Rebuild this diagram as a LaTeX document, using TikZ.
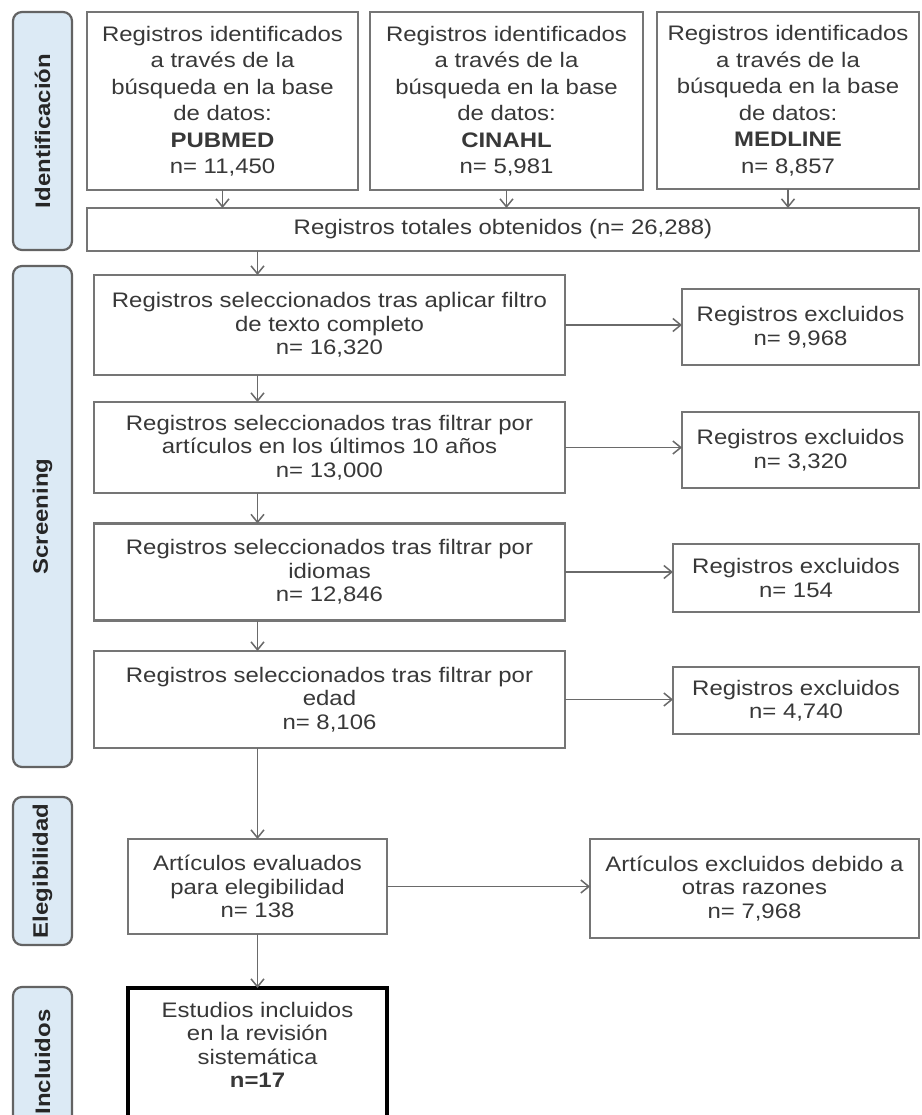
\documentclass[tikz,border=0pt]{standalone}
\usepackage{fontspec}
\setmainfont[FakeStretch=1.14]{Liberation Sans}
\usetikzlibrary{arrows.meta}
\definecolor{txt}{HTML}{383838}
\definecolor{bord}{HTML}{757575}
\definecolor{lblfill}{HTML}{DCEAF5}
\definecolor{lblbord}{HTML}{636363}
\definecolor{arr}{HTML}{6A6A6A}
\newcommand\fnt{\fontsize{21}{23.5}\selectfont}
\newcommand\fnttop{\fontsize{21}{26.5}\selectfont}
\begin{document}
\begin{tikzpicture}[x=1pt,y=-1pt,
  box/.style={draw=bord,line width=2.2pt,fill=white,text=txt,align=center,inner sep=0pt,outer sep=0pt,font=\fnt},
  topbox/.style={box,font=\fnttop},
  phase/.style={draw=lblbord,line width=2.2pt,fill=lblfill,rounded corners=9pt,inner sep=0pt,outer sep=0pt,rotate=90,font=\fnt\bfseries,text=black!85,minimum height=59pt},
  conn/.style={draw=arr,line width=1.8pt,-{Straight Barb[length=8pt,width=13pt,line width=1.5pt]}}
]
\clip (0,0) rectangle (921,1115);
\fill[white] (0,0) rectangle (921,1115);

% phase labels
\node[phase,minimum width=238pt] (L1) at (42.5,131) {Identificación};
\node[phase,minimum width=501pt] (L2) at (42.5,516.5) {Screening};
\node[phase,minimum width=148pt] (L3) at (42.5,871) {Elegibilidad};
\node[phase,minimum width=150pt] (L4) at (42.5,1062) {Incluidos};

% identification
\node[topbox,minimum width=271pt,minimum height=178pt] (A) at (222.5,101) {Registros identificados\\a través de la\\búsqueda en la base\\de datos:\\\textbf{PUBMED}\\n= 11,450};
\node[topbox,minimum width=273pt,minimum height=178pt] (B) at (506.5,101) {Registros identificados\\a través de la\\búsqueda en la base\\de datos:\\\textbf{CINAHL}\\n= 5,981};
\node[topbox,minimum width=262pt,minimum height=177pt] (C) at (788,100.5) {Registros identificados\\a través de la\\búsqueda en la base\\de datos:\\\textbf{MEDLINE}\\n= 8,857};
\node[box,minimum width=832pt,minimum height=43pt] (T) at (503,229.5) {Registros totales obtenidos (n= 26,288)};

% screening
\node[box,minimum width=471pt,minimum height=100pt] (S1) at (329.5,325) {Registros seleccionados tras aplicar filtro\\de texto completo\\n= 16,320};
\node[box,minimum width=471pt,minimum height=91pt] (S2) at (329.5,447.5) {Registros seleccionados tras filtrar por\\artículos en los últimos 10 años\\n= 13,000};
\node[box,minimum width=471pt,minimum height=97pt] (S3) at (329.5,572) {Registros seleccionados tras filtrar por\\idiomas\\n= 12,846};
\node[box,minimum width=471pt,minimum height=97pt] (S4) at (329.5,699.5) {Registros seleccionados tras filtrar por\\edad\\n= 8,106};

\node[box,minimum width=237pt,minimum height=76pt] (E1) at (800.5,327) {Registros excluidos\\n= 9,968};
\node[box,minimum width=237pt,minimum height=76pt] (E2) at (800.5,450) {Registros excluidos\\n= 3,320};
\node[box,minimum width=246pt,minimum height=68pt] (E3) at (796,578) {Registros excluidos\\n= 154};
\node[box,minimum width=246pt,minimum height=67pt] (E4) at (796,700.5) {Registros excluidos\\n= 4,740};

% eligibility
\node[box,minimum width=259pt,minimum height=95pt] (V) at (257.5,886.5) {Artículos evaluados\\para elegibilidad\\n= 138};
\node[box,minimum width=329pt,minimum height=99pt] (O) at (754.5,888.5) {Artículos excluidos debido a\\otras razones\\n= 7,968};

% included
\node[box,draw=black,line width=3.8pt,minimum width=259pt,minimum height=137pt,anchor=north] (I) at (257.5,988) {};
\node[text=txt,font=\fnt,align=center,anchor=north,inner sep=0pt] (It) at (257.5,1002) {Estudios incluidos\\en la revisión\\sistemática\\\textbf{n=17}};

% connectors
\draw[conn] (A.south) -- (A.south |- T.north);
\draw[conn] (B.south) -- (B.south |- T.north);
\draw[conn] (C.south) -- (C.south |- T.north);
\draw[conn] (T.south -| V.north) -- (S1.north -| V.north);
\draw[conn] (S1.south -| V.north) -- (S2.north -| V.north);
\draw[conn] (S2.south -| V.north) -- (S3.north -| V.north);
\draw[conn] (S3.south -| V.north) -- (S4.north -| V.north);
\draw[conn] (S4.south -| V.north) -- (V.north);
\draw[conn] (V.south) -- (I.north);
\draw[conn] (S1.east) -- (S1.east -| E1.west);
\draw[conn] (S2.east) -- (S2.east -| E2.west);
\draw[conn] (S3.east) -- (S3.east -| E3.west);
\draw[conn] (S4.east) -- (S4.east -| E4.west);
\draw[conn] (V.east) -- (V.east -| O.west);
\end{tikzpicture}
\end{document}
